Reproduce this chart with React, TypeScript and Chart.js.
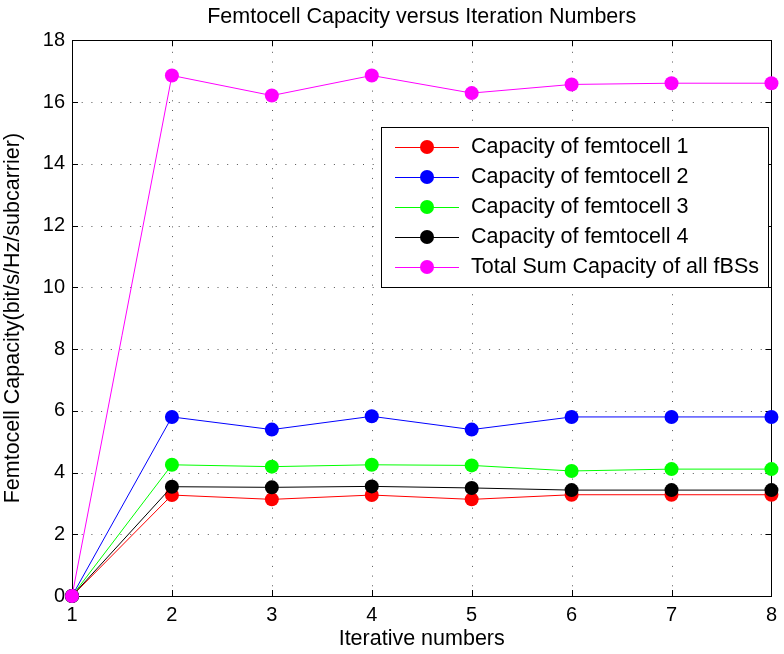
import React, { useEffect, useRef } from "react";
import { Chart, registerables } from "chart.js";

Chart.register(...registerables);

const iterations = [1, 2, 3, 4, 5, 6, 7, 8];
const femto1 = [0, 3.27, 3.13, 3.27, 3.13, 3.28, 3.28, 3.28];
const femto2 = [0, 5.8, 5.39, 5.82, 5.39, 5.8, 5.8, 5.8];
const femto3 = [0, 4.25, 4.19, 4.25, 4.23, 4.05, 4.11, 4.11];
const femto4 = [0, 3.54, 3.52, 3.55, 3.5, 3.43, 3.43, 3.43];
const totalSum = [0, 16.86, 16.21, 16.86, 16.29, 16.57, 16.61, 16.61];

const seriesLabels = [
  "Capacity of femtocell 1",
  "Capacity of femtocell 2",
  "Capacity of femtocell 3",
  "Capacity of femtocell 4",
  "Total Sum Capacity of all fBSs",
];
const seriesColors = ["#ff0000", "#0000ff", "#00ff00", "#000000", "#ff00ff"];
const seriesValues = [femto1, femto2, femto3, femto4, totalSum];

const FONT = "'Liberation Sans', Arial, Helvetica, sans-serif";
const TEXT_SIZE = 21.5;
const TICK_SIZE = 20;

const framePlugin = {
  id: "matlabFrame",
  beforeDatasetsDraw(chart: any) {
    const { ctx, chartArea } = chart;
    const { left, right, top, bottom } = chartArea;
    const xs = chart.scales.x;
    const ys = chart.scales.y;
    ctx.save();
    // dotted grid
    ctx.strokeStyle = "#555";
    ctx.lineWidth = 1;
    ctx.setLineDash([1, 8.7]);
    xs.ticks.forEach((t: any) => {
      const x = Math.round(xs.getPixelForValue(t.value)) + 0.5;
      if (x <= left + 1 || x >= right - 1) return;
      ctx.beginPath();
      ctx.moveTo(x, bottom);
      ctx.lineTo(x, top);
      ctx.stroke();
    });
    ys.ticks.forEach((t: any) => {
      const y = Math.round(ys.getPixelForValue(t.value)) + 0.5;
      if (y <= top + 1 || y >= bottom - 1) return;
      ctx.beginPath();
      ctx.moveTo(left, y);
      ctx.lineTo(right, y);
      ctx.stroke();
    });
    ctx.setLineDash([]);
    ctx.strokeStyle = "#000";
    // inward ticks
    const tl = 6;
    xs.ticks.forEach((t: any) => {
      const x = Math.round(xs.getPixelForValue(t.value)) + 0.5;
      ctx.beginPath();
      ctx.moveTo(x, bottom);
      ctx.lineTo(x, bottom - tl);
      ctx.moveTo(x, top);
      ctx.lineTo(x, top + tl);
      ctx.stroke();
    });
    ys.ticks.forEach((t: any) => {
      const y = Math.round(ys.getPixelForValue(t.value)) + 0.5;
      ctx.beginPath();
      ctx.moveTo(left, y);
      ctx.lineTo(left + tl, y);
      ctx.moveTo(right, y);
      ctx.lineTo(right - tl, y);
      ctx.stroke();
    });
    // box
    ctx.strokeRect(
      Math.round(left) + 0.5,
      Math.round(top) + 0.5,
      Math.round(right - left),
      Math.round(bottom - top)
    );
    ctx.restore();
  },
  afterDraw(chart: any) {
    // legend inside the axes
    const { ctx } = chart;
    const bx = 381;
    const by = 127;
    const bw = 387;
    const rowH = 30;
    const bh = 160;
    ctx.save();
    ctx.fillStyle = "#fff";
    ctx.fillRect(bx, by, bw, bh);
    ctx.strokeStyle = "#000";
    ctx.lineWidth = 1;
    ctx.strokeRect(bx + 0.5, by + 0.5, bw, bh);
    ctx.font = `${TEXT_SIZE}px ${FONT}`;
    ctx.textBaseline = "middle";
    chart.data.datasets.forEach((ds: any, i: number) => {
      const y = by + 19.5 + i * rowH;
      ctx.strokeStyle = ds.borderColor;
      ctx.beginPath();
      ctx.moveTo(bx + 14, Math.round(y) + 0.5);
      ctx.lineTo(bx + 78, Math.round(y) + 0.5);
      ctx.stroke();
      ctx.fillStyle = ds.backgroundColor;
      ctx.beginPath();
      ctx.arc(bx + 46, y + 0.5, 7, 0, Math.PI * 2);
      ctx.fill();
      ctx.fillStyle = "#000";
      ctx.fillText(ds.label, bx + 90, y + 1);
    });
    ctx.restore();
  },
};

export default function App() {
  const ref = useRef<HTMLCanvasElement>(null);
  useEffect(() => {
    if (!ref.current) return;
    const datasets = seriesValues.map((vals, i) => ({
      label: seriesLabels[i],
      data: vals.map((v, j) => ({ x: iterations[j], y: v })),
      borderColor: seriesColors[i],
      backgroundColor: seriesColors[i],
      borderWidth: 1,
      pointRadius: 7,
      pointHoverRadius: 7,
      pointBorderWidth: 0,
      tension: 0,
      clip: false as any,
      order: 5 - i,
    }));
    const chart = new Chart(ref.current, {
      type: "line",
      data: { datasets },
      plugins: [framePlugin],
      options: {
        animation: false,
        responsive: false,
        maintainAspectRatio: false,
        layout: { padding: { left: 0, right: 8, top: 0, bottom: 0 } },
        plugins: {
          legend: { display: false },
          tooltip: { enabled: false },
          title: {
            display: true,
            fullSize: false,
            text: "Femtocell Capacity versus Iteration Numbers",
            color: "#000",
            font: { family: FONT, size: TEXT_SIZE, weight: "normal" as any, lineHeight: 1.2 },
            padding: { top: 4, bottom: 10.5 },
          },
        },
        scales: {
          x: {
            type: "linear",
            min: 1,
            max: 8,
            ticks: {
              stepSize: 1,
              color: "#000",
              padding: 7,
              font: { family: FONT, size: TICK_SIZE },
            },
            grid: { display: false, drawTicks: false },
            border: { display: false },
            title: {
              display: true,
              text: "Iterative numbers",
              color: "#000",
              font: { family: FONT, size: TEXT_SIZE },
              padding: { top: 0, bottom: 2 },
            },
            afterFit: (s: any) => {
              s.height = 58;
            },
          },
          y: {
            type: "linear",
            min: 0,
            max: 18,
            ticks: {
              stepSize: 2,
              color: "#000",
              padding: 7,
              font: { family: FONT, size: TICK_SIZE },
            },
            grid: { display: false, drawTicks: false },
            border: { display: false },
            title: {
              display: true,
              text: "Femtocell Capacity(bit/s/Hz/subcarrier)",
              color: "#000",
              font: { family: FONT, size: TEXT_SIZE },
              padding: { top: 0, bottom: 0 },
            },
            afterFit: (s: any) => {
              s.width = 72;
            },
          },
        },
      },
    });
    return () => chart.destroy();
  }, []);
  return (
    <div style={{ position: "fixed", left: 0, top: 0, width: 784, height: 654, background: "#fff" }}>
      <canvas ref={ref} width={784} height={654} style={{ width: 784, height: 654 }} />
    </div>
  );
}
